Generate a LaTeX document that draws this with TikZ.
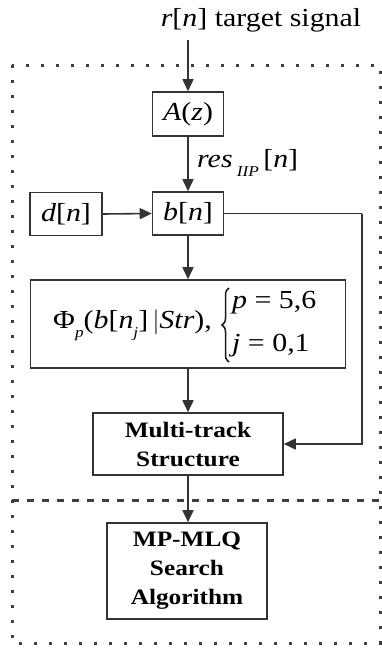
\documentclass[tikz,border=0pt]{standalone}
\usepackage{fontspec}
\setmainfont[FakeStretch=1.15]{Liberation Serif}
\usetikzlibrary{arrows.meta,decorations.pathreplacing}
\tikzset{
  blk/.style={draw=black!80, line width=1.6pt, inner sep=0pt, align=center},
  arr/.style={draw=black!80, line width=1.6pt, -{Triangle[length=12pt,width=11pt]}},
  ln/.style={draw=black!80, line width=1.8pt},
  dotbox/.style={draw=black!75, line width=3pt, dash pattern=on 3pt off 12pt},
  dashln/.style={draw=black!75, line width=3pt, dash pattern=on 7pt off 8pt},
  big/.style={font=\fontsize{26}{30}\selectfont},
  bold/.style={font=\fontsize{22}{29}\selectfont\bfseries},
  bracestyle/.style={draw=black!90, line width=1.5pt, decorate, decoration={brace, amplitude=7pt}},
}
\newcommand{\smallsub}[1]{\raisebox{-0.35em}{\fontsize{15}{15}\selectfont\textit{#1}}}
\begin{document}
\begin{tikzpicture}[x=1pt,y=-1pt]
\useasboundingbox (0,0) rectangle (382,649);
% frames
\draw[dotbox] (12,65) rectangle (380,643);
\draw[dashln] (12,500) -- (380,500);
% title
\node[big, inner sep=0pt] (t) at (261,20) {\textit{r}[\textit{n}] target signal};
\coordinate (in) at (188,40);
% blocks
\node[blk, big, minimum width=71pt, minimum height=44pt] (A) at (188,114) {\textit{A}(\textit{z})};
\node[blk, big, minimum width=71pt, minimum height=43pt] (b) at (188,213.5) {\textit{b}[\textit{n}]};
\node[blk, big, minimum width=72pt, minimum height=43pt] (d) at (66,214) {\textit{d}[\textit{n}]};
\node[blk, minimum width=315pt, minimum height=88pt] (phi) at (188,324) {};
\node[big, inner sep=0pt, anchor=west] (phil) at (53,325)
  {Φ\smallsub{p}(\textit{b}[\textit{n}\smallsub{j}]\,$\big|$\textit{Str}),};
\node[big, inner sep=0pt, anchor=west] (pl) at (232,303) {\textit{p} = 5,6};
\node[big, inner sep=0pt, anchor=west] (jl) at (232,346) {\textit{j} = 0,1};
\coordinate (bt) at (229,288);
\coordinate (bb) at (229,362);
\draw[bracestyle] (bb) -- (bt);
\node[blk, bold, minimum width=190pt, minimum height=62pt] (mt) at (188,444) {Multi-track\\Structure};
\node[blk, bold, minimum width=160pt, minimum height=96pt] (mp) at (187,571) {MP-MLQ\\Search\\Algorithm};
% label
\node[big, inner sep=0pt, anchor=west] (res) at (197,163) {\textit{res}\,\smallsub{IIP}\,[\textit{n}]};
% connectors
\draw[arr] (in) -- (A.north);
\draw[arr] (A.south) -- (b.north);
\draw[arr] (d.east) -- (b.west);
\draw[arr] (b.south) -- (phi.north);
\draw[arr] (phi.south) -- (mt.north);
\draw[arr] (mt.south) -- (mt.south |- mp.north);
\coordinate (rc) at (362,213.5);
\draw[ln] (b.east) -- (rc);
\draw[arr] (rc) |- (mt.east);
\end{tikzpicture}
\end{document}
